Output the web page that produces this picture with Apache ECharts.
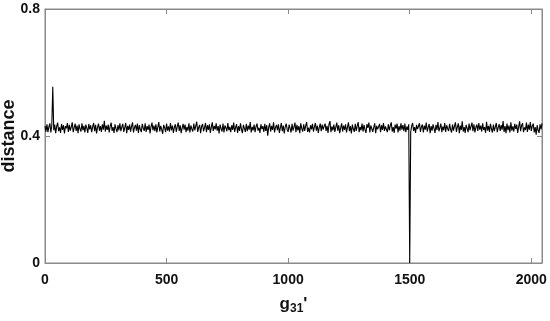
<!DOCTYPE html>
<html>
<head>
<meta charset="utf-8">
<script src="https://cdn.jsdelivr.net/npm/echarts@6/dist/echarts.min.js"></script>
<style>html,body{margin:0;padding:0;background:#fff;}#c{width:550px;height:321px;}</style>
</head>
<body>
<div id="c"></div>
<script>
// sample spacing along g31' (every 4th index)
const sampleStep = 4;
const xTicks = [0, 500, 1000, 1500, 2000];
const yTicks = [0, 0.4, 0.8];
const distance = [
0.431,0.414,0.437,0.412,0.429,0.440,0.411,0.433,0.555,0.418,0.436,0.409,0.430,0.442,0.415,0.427,
0.410,0.438,0.419,0.434,0.408,0.431,0.424,0.441,0.413,0.435,0.417,0.429,0.443,0.412,0.426,0.439,
0.416,0.433,0.409,0.437,0.422,0.414,0.440,0.418,0.432,0.411,0.436,0.425,0.410,0.438,0.421,0.434,
0.412,0.429,0.441,0.415,0.435,0.408,0.427,0.439,0.417,0.431,0.413,0.437,0.420,0.448,0.414,0.433,
0.419,0.436,0.411,0.430,0.442,0.416,0.428,0.410,0.437,0.423,0.412,0.434,0.418,0.440,0.415,0.429,
0.438,0.413,0.426,0.441,0.409,0.432,0.419,0.436,0.414,0.430,0.443,0.411,0.427,0.435,0.417,0.439,
0.410,0.434,0.421,0.412,0.438,0.425,0.416,0.440,0.413,0.431,0.419,0.436,0.408,0.429,0.442,0.418,
0.433,0.415,0.437,0.411,0.428,0.444,0.414,0.432,0.420,0.407,0.435,0.426,0.412,0.439,0.417,0.430,
0.414,0.441,0.418,0.433,0.410,0.427,0.437,0.413,0.430,0.442,0.416,0.434,0.409,0.425,0.438,0.420,
0.436,0.412,0.429,0.417,0.440,0.411,0.433,0.422,0.414,0.439,0.418,0.431,0.445,0.413,0.427,0.435,
0.409,0.430,0.438,0.415,0.426,0.441,0.412,0.434,0.419,0.437,0.410,0.428,0.443,0.416,0.432,0.421,
0.440,0.417,0.431,0.408,0.436,0.423,0.414,0.439,0.411,0.433,0.426,0.415,0.441,0.418,0.429,0.412,
0.434,0.419,0.442,0.413,0.427,0.437,0.410,0.431,0.416,0.440,0.421,0.409,0.435,0.424,0.413,0.438,
0.415,0.433,0.420,0.444,0.411,0.429,0.418,0.436,0.412,0.430,0.439,0.417,0.426,0.410,0.437,0.422,
0.431,0.413,0.438,0.416,0.434,0.401,0.428,0.440,0.414,0.432,0.419,0.443,0.411,0.427,0.435,0.418,
0.437,0.410,0.426,0.441,0.415,0.433,0.408,0.429,0.439,0.420,0.413,0.436,0.424,0.411,0.438,0.417,
0.428,0.442,0.412,0.435,0.418,0.431,0.409,0.440,0.423,0.414,0.437,0.416,0.432,0.444,0.413,0.426,
0.411,0.434,0.421,0.438,0.414,0.429,0.441,0.417,0.433,0.410,0.427,0.439,0.415,0.436,0.420,0.431,
0.439,0.416,0.432,0.410,0.437,0.447,0.412,0.430,0.418,0.436,0.413,0.428,0.442,0.417,0.434,0.409,
0.425,0.440,0.414,0.433,0.419,0.437,0.411,0.428,0.443,0.415,0.431,0.408,0.436,0.422,0.413,0.438,
0.416,0.431,0.444,0.412,0.429,0.418,0.439,0.414,0.435,0.420,0.410,0.437,0.426,0.442,0.411,0.433,
0.436,0.413,0.427,0.440,0.409,0.432,0.421,0.415,0.438,0.412,0.434,0.419,0.441,0.416,0.430,0.425,
0.412,0.437,0.418,0.433,0.443,0.414,0.428,0.410,0.436,0.423,0.439,0.411,0.431,0.417,0.440,0.420,
0.434,0.415,0.439,0.412,0.430,0.419,0.437,0.000,0.413,0.432,0.441,0.416,0.428,0.410,0.435,0.422,
0.418,0.440,0.413,0.429,0.436,0.411,0.433,0.420,0.442,0.414,0.427,0.438,0.409,0.431,0.417,0.437,
0.432,0.410,0.435,0.419,0.444,0.415,0.426,0.439,0.412,0.430,0.418,0.441,0.413,0.434,0.423,0.416,
0.438,0.421,0.411,0.436,0.417,0.431,0.443,0.413,0.429,0.440,0.409,0.433,0.419,0.446,0.414,0.428,
0.410,0.435,0.424,0.412,0.439,0.418,0.430,0.442,0.415,0.437,0.411,0.427,0.436,0.416,0.441,0.420,
0.433,0.414,0.440,0.419,0.428,0.410,0.445,0.417,0.432,0.413,0.438,0.422,0.411,0.436,0.415,0.429,
0.441,0.412,0.427,0.437,0.416,0.434,0.420,0.447,0.413,0.431,0.409,0.439,0.418,0.433,0.411,0.443,
0.417,0.430,0.414,0.438,0.422,0.436,0.410,0.429,0.446,0.415,0.433,0.440,0.412,0.427,0.419,0.442,
0.413,0.436,0.420,0.444,0.416,0.431,0.439,0.411,0.428,0.404,0.434,0.418,0.410,0.437,0.421,0.440
];
const xMax = 2044;
const seriesData = distance.map((v, i) => [i * sampleStep, v]);

const font = 'Liberation Sans, Arial, sans-serif';
const axisGray = '#8a8a8a';
const labelStyle = { color: '#111', fontWeight: 'bold', fontSize: 14, fontFamily: font };

const chart = echarts.init(document.getElementById('c'), null, { renderer: 'canvas' });
chart.setOption({
  animation: false,
  backgroundColor: '#fff',
  grid: { left: 45, right: 8, top: 9, bottom: 58, containLabel: false, outerBoundsMode: 'none',
    show: true, borderColor: axisGray, borderWidth: 1, backgroundColor: 'transparent' },
  xAxis: [{
    type: 'value', min: 0, max: xMax, interval: 500,
    axisLine: { show: true, onZero: false, lineStyle: { color: axisGray, width: 1 } },
    axisTick: { show: true, inside: true, length: 5, lineStyle: { color: axisGray } },
    splitLine: { show: false },
    axisLabel: Object.assign({}, labelStyle, { margin: 10, showMaxLabel: false,
      formatter: v => xTicks.indexOf(v) >= 0 ? String(v) : '' }),
    name: "{g|g}{s|31}{g|'}",
    nameLocation: 'middle', nameGap: 31, nameMoveOverlap: false,
    nameTextStyle: { rich: {
      g: { fontSize: 17, fontWeight: 'bold', fontFamily: font, color: '#111' },
      s: { fontSize: 12, fontWeight: 'bold', fontFamily: font, color: '#111', verticalAlign: 'bottom', padding: [9, 0, 0, 0] }
    } }
  }, {
    type: 'value', position: 'top', min: 0, max: xMax, interval: 500,
    axisLine: { show: true, onZero: false, lineStyle: { color: axisGray, width: 1 } },
    axisTick: { show: true, inside: true, length: 5, lineStyle: { color: axisGray } },
    axisLabel: { show: false }, splitLine: { show: false }
  }],
  yAxis: [{
    type: 'value', min: 0, max: 0.8, interval: 0.4,
    axisLine: { show: true, onZero: false, lineStyle: { color: axisGray, width: 1 } },
    axisTick: { show: true, inside: true, length: 5, lineStyle: { color: axisGray } },
    splitLine: { show: false },
    axisLabel: Object.assign({}, labelStyle, { margin: 5,
      formatter: v => yTicks.indexOf(Math.round(v * 10) / 10) >= 0 ? String(Math.round(v * 10) / 10) : '' }),
    name: 'distance', nameLocation: 'middle', nameGap: 27, nameRotate: 90, nameMoveOverlap: false,
    nameTextStyle: { fontSize: 18, fontWeight: 'bold', fontFamily: font, color: '#111' }
  }, {
    type: 'value', position: 'right', min: 0, max: 0.8, interval: 0.4,
    axisLine: { show: true, onZero: false, lineStyle: { color: axisGray, width: 1 } },
    axisTick: { show: true, inside: true, length: 5, lineStyle: { color: axisGray } },
    axisLabel: { show: false }, splitLine: { show: false }
  }],
  series: [{
    type: 'line', data: seriesData, showSymbol: false, symbol: 'none',
    lineStyle: { color: '#000', width: 1.1 }, clip: true
  }]
});
</script>
</body>
</html>
